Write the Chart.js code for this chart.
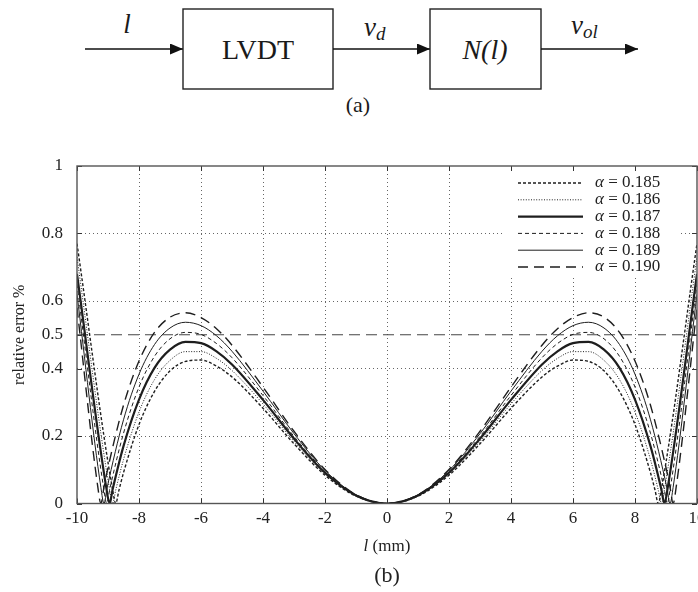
<!DOCTYPE html>
<html>
<head>
<meta charset="utf-8">
<script src="https://cdn.jsdelivr.net/npm/chart.js@4.4.1/dist/chart.umd.min.js"></script>
<style>
  html, body { margin: 0; padding: 0; background: #fff; }
  body { width: 698px; height: 592px; overflow: hidden; position: relative;
         font-family: "Liberation Serif", "DejaVu Serif", "Times New Roman", Times, serif; color: #222; }
  #diagram { position: absolute; left: 0; top: 0; }
  #diagram text { font-family: "Liberation Serif", "DejaVu Serif", "Times New Roman", Times, serif; }
  #plot { position: absolute; left: 0; top: 150px; width: 698px; height: 390px; }
  .lbl { position: absolute; text-align: center; white-space: nowrap; }
</style>
</head>
<body>

<svg id="diagram" width="698" height="135" fill="#1a1a1a">
  <defs>
    <marker id="ah" markerWidth="13" markerHeight="11" refX="13" refY="5.5" orient="auto" markerUnits="userSpaceOnUse">
      <path d="M0,0 L13,5.5 L0,11 z" fill="#111"/>
    </marker>
  </defs>
  <line x1="85" y1="49" x2="183" y2="49" stroke="#111" stroke-width="1.6" marker-end="url(#ah)"/>
  <rect x="183" y="9" width="150" height="80" fill="none" stroke="#222" stroke-width="1.4"/>
  <line x1="333" y1="49" x2="430" y2="49" stroke="#111" stroke-width="1.6" marker-end="url(#ah)"/>
  <rect x="430" y="9" width="111" height="80" fill="none" stroke="#222" stroke-width="1.4"/>
  <line x1="541" y1="49" x2="638" y2="49" stroke="#111" stroke-width="1.6" marker-end="url(#ah)"/>
  <text x="258" y="59" font-size="28" text-anchor="middle">LVDT</text>
  <text x="485" y="59" font-size="28" text-anchor="middle" font-style="italic">N(l)</text>
  <text x="127" y="33" font-size="27" text-anchor="middle" font-style="italic">l</text>
  <text x="364" y="36" font-size="27" font-style="italic">v<tspan font-size="19" dy="4">d</tspan></text>
  <text x="571" y="34" font-size="27" font-style="italic">v<tspan font-size="19" dy="4">ol</tspan></text>
  <text x="358" y="112" font-size="22" text-anchor="middle">(a)</text>
</svg>

<div id="plot"><canvas id="errChart" width="698" height="390"></canvas></div>
<div class="lbl" style="left:287px; top:536px; width:200px; font-size:17px;"><i>l</i> (mm)</div>
<div class="lbl" style="left:287px; top:562px; width:200px; font-size:22px;">(b)</div>

<script>
// relative error curves, one list of [l (mm), error %] per alpha
const alphas = ['0.185', '0.186', '0.187', '0.188', '0.189', '0.190'];

const err185 = [[-10,0.77],[-8.85,0.040],[-8.75,0],[-8.65,0.038],[-8.5,0.091],[-8,0.234],[-7.5,0.332],[-7,0.393],[-6.5,0.421],[-6,0.425],[-5.5,0.407],[-5,0.375],[-4,0.282],[-3,0.177],[-2,0.084],[-1,0.022],[0,0],
                [1,0.022],[2,0.084],[3,0.177],[4,0.282],[5,0.375],[5.5,0.407],[6,0.425],[6.5,0.421],[7,0.393],[7.5,0.332],[8,0.234],[8.5,0.091],[8.65,0.038],[8.75,0],[8.85,0.040],[10,0.77]];
const err186 = [[-10,0.73],[-8.95,0.042],[-8.85,0],[-8.75,0.040],[-8.5,0.130],[-8,0.271],[-7.5,0.367],[-7,0.424],[-6.5,0.450],[-6,0.450],[-5.5,0.430],[-5,0.394],[-4,0.295],[-3,0.184],[-2,0.088],[-1,0.023],[0,0],
                [1,0.023],[2,0.088],[3,0.184],[4,0.295],[5,0.394],[5.5,0.430],[6,0.450],[6.5,0.450],[7,0.424],[7.5,0.367],[8,0.271],[8.5,0.130],[8.75,0.040],[8.85,0],[8.95,0.042],[10,0.73]];
const err187 = [[-10,0.68],[-9.05,0.044],[-8.95,0],[-8.85,0.042],[-8.5,0.170],[-8,0.308],[-7.5,0.402],[-7,0.456],[-6.5,0.479],[-6,0.475],[-5.5,0.451],[-5,0.412],[-4,0.307],[-3,0.192],[-2,0.091],[-1,0.024],[0,0],
                [1,0.024],[2,0.091],[3,0.192],[4,0.307],[5,0.412],[5.5,0.451],[6,0.475],[6.5,0.479],[7,0.456],[7.5,0.402],[8,0.308],[8.5,0.170],[8.85,0.042],[8.95,0],[9.05,0.044],[10,0.68]];
const err188 = [[-10,0.65],[-9.14,0.046],[-9.04,0],[-8.94,0.044],[-8.5,0.208],[-8,0.345],[-7.5,0.436],[-7,0.488],[-6.5,0.507],[-6,0.501],[-5.5,0.474],[-5,0.432],[-4,0.320],[-3,0.199],[-2,0.095],[-1,0.025],[0,0],
                [1,0.025],[2,0.095],[3,0.199],[4,0.320],[5,0.432],[5.5,0.474],[6,0.501],[6.5,0.507],[7,0.488],[7.5,0.436],[8,0.345],[8.5,0.208],[8.94,0.044],[9.04,0],[9.14,0.046],[10,0.65]];
const err189 = [[-10,0.62],[-9.23,0.048],[-9.13,0],[-9.03,0.046],[-8.5,0.248],[-8,0.383],[-7.5,0.471],[-7,0.520],[-6.5,0.537],[-6,0.527],[-5.5,0.497],[-5,0.451],[-4,0.333],[-3,0.207],[-2,0.098],[-1,0.026],[0,0],
                [1,0.026],[2,0.098],[3,0.207],[4,0.333],[5,0.451],[5.5,0.497],[6,0.527],[6.5,0.537],[7,0.520],[7.5,0.471],[8,0.383],[8.5,0.248],[9.03,0.046],[9.13,0],[9.23,0.048],[10,0.62]];
const err190 = [[-10,0.58],[-9.33,0.050],[-9.23,0],[-9.13,0.048],[-9,0.106],[-8.5,0.291],[-8,0.422],[-7.5,0.507],[-7,0.552],[-6.5,0.565],[-6,0.551],[-5.5,0.518],[-5,0.469],[-4,0.345],[-3,0.214],[-2,0.101],[-1,0.026],[0,0],
                [1,0.026],[2,0.101],[3,0.214],[4,0.345],[5,0.469],[5.5,0.518],[6,0.551],[6.5,0.565],[7,0.552],[7.5,0.507],[8,0.422],[8.5,0.291],[9,0.106],[9.13,0.048],[9.23,0],[9.33,0.050],[10,0.58]];

const xTicks = [-10, -8, -6, -4, -2, 0, 2, 4, 6, 8, 10];
const yTicks = [0, 0.2, 0.4, 0.5, 0.6, 0.8, 1];
const limitLevel = 0.5;

const curves = [err185, err186, err187, err188, err189, err190];

// line looks, same order as alphas
const lineStyles = [
    { width: 1.4, dash: [3, 2] },
    { width: 1, dash: [1, 1.6] },
    { width: 2.2, dash: [] },
    { width: 1, dash: [4, 3] },
    { width: 1, dash: [] },
    { width: 1.4, dash: [10, 6] }
];

const serif = '"Liberation Serif", "DejaVu Serif", "Times New Roman", Times, serif';
const ink = '#1e1e1e';

const datasets = curves.map(function (pts, i) {
    return {
        label: 'α = ' + alphas[i],
        data: pts.map(p => ({ x: p[0], y: p[1] })),
        borderColor: ink,
        borderWidth: lineStyles[i].width,
        borderDash: lineStyles[i].dash,
        pointRadius: 0,
        cubicInterpolationMode: 'monotone',
        fill: false
    };
});
datasets.push({
    label: 'limit',
    data: [{ x: xTicks[0], y: limitLevel }, { x: xTicks[xTicks.length - 1], y: limitLevel }],
    borderColor: '#444',
    borderWidth: 1,
    borderDash: [11, 6],
    pointRadius: 0,
    fill: false
});

// frame, inward ticks and the legend box inside the plot
const framePlugin = {
    id: 'frame',
    beforeDatasetsDraw(chart) {
        const ctx = chart.ctx;
        ctx.save();
        ctx.fillStyle = '#fff';
        ctx.fillRect(505, 21, 173, 105);
        const rowTop = 33, rowStep = 16.8;
        for (let i = 0; i < alphas.length; i++) {
            const yy = rowTop + i * rowStep;
            ctx.strokeStyle = ink;
            ctx.lineWidth = lineStyles[i].width;
            ctx.setLineDash(lineStyles[i].dash);
            ctx.beginPath();
            ctx.moveTo(518, yy);
            ctx.lineTo(583, yy);
            ctx.stroke();
            ctx.setLineDash([]);
            ctx.fillStyle = '#222';
            ctx.textBaseline = 'middle';
            ctx.font = 'italic 17px ' + serif;
            ctx.fillText('α', 595, yy);
            const w = ctx.measureText('α').width;
            ctx.font = '17px ' + serif;
            ctx.fillText(' = ' + alphas[i], 595 + w, yy);
        }
        ctx.restore();
    },
    afterDatasetsDraw(chart) {
        const { ctx, chartArea: a, scales: { x, y } } = chart;
        ctx.save();
        ctx.strokeStyle = '#333';
        ctx.lineWidth = 1;
        ctx.beginPath();
        xTicks.forEach(function (v) {
            const px = Math.round(x.getPixelForValue(v)) + 0.5;
            ctx.moveTo(px, a.bottom); ctx.lineTo(px, a.bottom - 5);
            ctx.moveTo(px, a.top); ctx.lineTo(px, a.top + 5);
        });
        yTicks.forEach(function (v) {
            const py = Math.round(y.getPixelForValue(v)) + 0.5;
            ctx.moveTo(a.left, py); ctx.lineTo(a.left + 5, py);
            ctx.moveTo(a.right, py); ctx.lineTo(a.right - 5, py);
        });
        ctx.stroke();
        ctx.strokeStyle = '#555';
        ctx.lineWidth = 1.4;
        ctx.strokeRect(a.left, a.top, a.right - a.left, a.bottom - a.top);
        ctx.restore();
    }
};

const errCtx = document.getElementById('errChart').getContext('2d');

new Chart(errCtx, {
    type: 'line',
    data: { datasets: datasets },
    options: {
        responsive: false,
        animation: false,
        layout: { padding: { left: 0, right: 1, top: 16, bottom: 0 } },
        plugins: { legend: { display: false }, tooltip: { enabled: false } },
        scales: {
            x: {
                type: 'linear',
                min: -10,
                max: 10,
                afterBuildTicks: s => { s.ticks = xTicks.map(v => ({ value: v })); },
                afterFit: s => { s.height = 36.5; s.paddingLeft = 0; s.paddingRight = 0; },
                ticks: {
                    color: '#222',
                    font: { family: serif, size: 17 },
                    padding: 5,
                    maxRotation: 0,
                    autoSkip: false,
                    callback: v => String(v)
                },
                grid: {
                    drawTicks: false,
                    lineWidth: 1,
                    color: c => (c.tick && (c.tick.value === -10 || c.tick.value === 10)) ? 'rgba(0,0,0,0)' : '#666'
                },
                border: { display: false, dash: [1, 3] }
            },
            y: {
                min: 0,
                max: 1,
                afterBuildTicks: s => { s.ticks = yTicks.map(v => ({ value: v })); },
                afterFit: s => { s.width = 77; s.paddingTop = 0; s.paddingBottom = 0; },
                ticks: {
                    color: '#222',
                    font: { family: serif, size: 17 },
                    padding: 14,
                    autoSkip: false,
                    callback: v => String(v)
                },
                grid: {
                    drawTicks: false,
                    lineWidth: 1,
                    color: c => (c.tick && [0, limitLevel, 1].includes(c.tick.value)) ? 'rgba(0,0,0,0)' : '#666'
                },
                border: { display: false, dash: [1, 3] },
                title: {
                    display: true,
                    text: 'relative error %',
                    color: '#222',
                    font: { family: serif, size: 16 },
                    padding: { top: 10, bottom: 0 }
                }
            }
        }
    },
    plugins: [framePlugin]
});
</script>
</body>
</html>
